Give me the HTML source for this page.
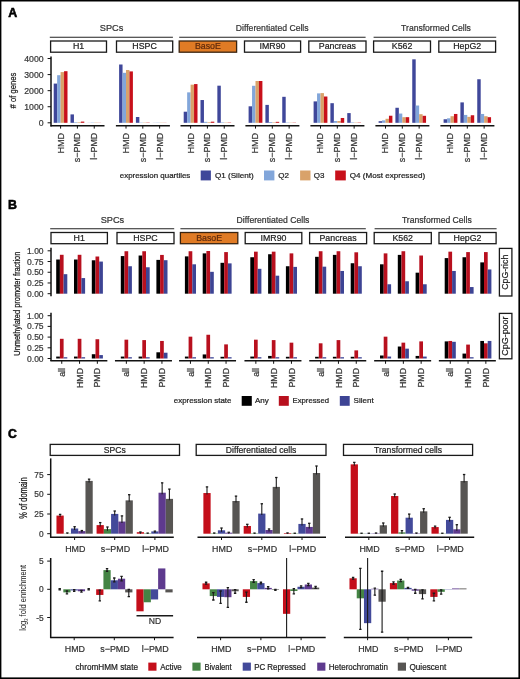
<!DOCTYPE html>
<html><head><meta charset="utf-8"><style>
html,body{margin:0;padding:0;background:#fff;overflow:hidden;}
svg{display:block;font-family:"Liberation Sans", sans-serif;}
.wrap{will-change:transform;}
</style></head><body><div class="wrap">
<svg width="520" height="679" viewBox="0 0 520 679">
<rect x="0" y="0" width="520" height="679" fill="#000"/>
<rect x="1.4" y="1.5" width="517.0" height="675.9" fill="#fff"/>
<text x="8.3" y="17.2" font-size="12.4" fill="#000" text-anchor="start" font-weight="bold" stroke="#000" stroke-width="0.55">A</text>
<text x="8.1" y="208.7" font-size="12.4" fill="#000" text-anchor="start" font-weight="bold" stroke="#000" stroke-width="0.55">B</text>
<text x="8.0" y="437.9" font-size="12.2" fill="#000" text-anchor="start" font-weight="bold" stroke="#000" stroke-width="0.55">C</text>
<text x="111.6" y="31.2" font-size="9.2" fill="#333" text-anchor="middle" font-weight="normal" stroke="#333" stroke-width="0.22">SPCs</text>
<text x="272.2" y="31.3" font-size="9.2" fill="#333" text-anchor="middle" font-weight="normal" textLength="72.8" lengthAdjust="spacingAndGlyphs" stroke="#333" stroke-width="0.22">Differentiated Cells</text>
<text x="436.0" y="31.3" font-size="9.2" fill="#333" text-anchor="middle" font-weight="normal" textLength="69.8" lengthAdjust="spacingAndGlyphs" stroke="#333" stroke-width="0.22">Transformed Cells</text>
<line x1="49.80" y1="37.30" x2="172.90" y2="37.30" stroke="#222" stroke-width="1.1"/>
<line x1="179.20" y1="37.30" x2="365.60" y2="37.30" stroke="#222" stroke-width="1.1"/>
<line x1="373.60" y1="37.30" x2="496.20" y2="37.30" stroke="#222" stroke-width="1.1"/>
<rect x="50.60" y="41.00" width="55.90" height="11.20" fill="#fff" stroke="#1a1a1a" stroke-width="1.3"/>
<text x="78.55" y="49.4" font-size="8.8" fill="#1e1e1e" text-anchor="middle" font-weight="normal" stroke="#1e1e1e" stroke-width="0.22">H1</text>
<rect x="116.50" y="41.00" width="56.20" height="11.20" fill="#fff" stroke="#1a1a1a" stroke-width="1.3"/>
<text x="144.6" y="49.4" font-size="8.8" fill="#1e1e1e" text-anchor="middle" font-weight="normal" stroke="#1e1e1e" stroke-width="0.22">HSPC</text>
<rect x="179.20" y="41.00" width="57.40" height="11.20" fill="#E07B25" stroke="#3a2410" stroke-width="1.3"/>
<text x="207.89999999999998" y="49.4" font-size="8.8" fill="#5e2a0c" text-anchor="middle" font-weight="normal" stroke="#5e2a0c" stroke-width="0.22">BasoE</text>
<rect x="244.50" y="41.00" width="56.10" height="11.20" fill="#fff" stroke="#1a1a1a" stroke-width="1.3"/>
<text x="272.55" y="49.4" font-size="8.8" fill="#1e1e1e" text-anchor="middle" font-weight="normal" stroke="#1e1e1e" stroke-width="0.22">IMR90</text>
<rect x="308.80" y="41.00" width="57.20" height="11.20" fill="#fff" stroke="#1a1a1a" stroke-width="1.3"/>
<text x="337.4" y="49.4" font-size="8.8" fill="#1e1e1e" text-anchor="middle" font-weight="normal" stroke="#1e1e1e" stroke-width="0.22">Pancreas</text>
<rect x="373.60" y="41.00" width="56.90" height="11.20" fill="#fff" stroke="#1a1a1a" stroke-width="1.3"/>
<text x="402.05" y="49.4" font-size="8.8" fill="#1e1e1e" text-anchor="middle" font-weight="normal" stroke="#1e1e1e" stroke-width="0.22">K562</text>
<rect x="438.80" y="41.00" width="56.80" height="11.20" fill="#fff" stroke="#1a1a1a" stroke-width="1.3"/>
<text x="467.20000000000005" y="49.4" font-size="8.8" fill="#1e1e1e" text-anchor="middle" font-weight="normal" stroke="#1e1e1e" stroke-width="0.22">HepG2</text>
<text x="112.39999999999999" y="222.7" font-size="9.2" fill="#333" text-anchor="middle" font-weight="normal" stroke="#333" stroke-width="0.22">SPCs</text>
<text x="273.0" y="222.8" font-size="9.2" fill="#333" text-anchor="middle" font-weight="normal" textLength="72.8" lengthAdjust="spacingAndGlyphs" stroke="#333" stroke-width="0.22">Differentiated Cells</text>
<text x="436.8" y="222.8" font-size="9.2" fill="#333" text-anchor="middle" font-weight="normal" textLength="69.8" lengthAdjust="spacingAndGlyphs" stroke="#333" stroke-width="0.22">Transformed Cells</text>
<line x1="50.20" y1="228.80" x2="174.20" y2="228.80" stroke="#222" stroke-width="1.1"/>
<line x1="180.40" y1="228.80" x2="365.80" y2="228.80" stroke="#222" stroke-width="1.1"/>
<line x1="374.60" y1="228.80" x2="496.60" y2="228.80" stroke="#222" stroke-width="1.1"/>
<rect x="51.00" y="232.50" width="56.40" height="11.20" fill="#fff" stroke="#1a1a1a" stroke-width="1.3"/>
<text x="79.2" y="240.9" font-size="8.8" fill="#1e1e1e" text-anchor="middle" font-weight="normal" stroke="#1e1e1e" stroke-width="0.22">H1</text>
<rect x="117.00" y="232.50" width="57.00" height="11.20" fill="#fff" stroke="#1a1a1a" stroke-width="1.3"/>
<text x="145.5" y="240.9" font-size="8.8" fill="#1e1e1e" text-anchor="middle" font-weight="normal" stroke="#1e1e1e" stroke-width="0.22">HSPC</text>
<rect x="180.40" y="232.50" width="57.40" height="11.20" fill="#E07B25" stroke="#3a2410" stroke-width="1.3"/>
<text x="209.10000000000002" y="240.9" font-size="8.8" fill="#5e2a0c" text-anchor="middle" font-weight="normal" stroke="#5e2a0c" stroke-width="0.22">BasoE</text>
<rect x="245.20" y="232.50" width="56.60" height="11.20" fill="#fff" stroke="#1a1a1a" stroke-width="1.3"/>
<text x="273.5" y="240.9" font-size="8.8" fill="#1e1e1e" text-anchor="middle" font-weight="normal" stroke="#1e1e1e" stroke-width="0.22">IMR90</text>
<rect x="309.60" y="232.50" width="57.00" height="11.20" fill="#fff" stroke="#1a1a1a" stroke-width="1.3"/>
<text x="338.1" y="240.9" font-size="8.8" fill="#1e1e1e" text-anchor="middle" font-weight="normal" stroke="#1e1e1e" stroke-width="0.22">Pancreas</text>
<rect x="374.20" y="232.50" width="57.10" height="11.20" fill="#fff" stroke="#1a1a1a" stroke-width="1.3"/>
<text x="402.75" y="240.9" font-size="8.8" fill="#1e1e1e" text-anchor="middle" font-weight="normal" stroke="#1e1e1e" stroke-width="0.22">K562</text>
<rect x="439.00" y="232.50" width="57.10" height="11.20" fill="#fff" stroke="#1a1a1a" stroke-width="1.3"/>
<text x="467.55" y="240.9" font-size="8.8" fill="#1e1e1e" text-anchor="middle" font-weight="normal" stroke="#1e1e1e" stroke-width="0.22">HepG2</text>
<rect x="53.70" y="83.59" width="3.45" height="39.21" fill="#3F479A"/>
<rect x="57.15" y="75.20" width="3.45" height="47.60" fill="#82A6DA"/>
<rect x="60.60" y="72.10" width="3.45" height="50.70" fill="#D9A26A"/>
<rect x="64.05" y="71.20" width="3.45" height="51.60" fill="#C8101A"/>
<rect x="70.50" y="114.40" width="3.45" height="8.40" fill="#3F479A"/>
<rect x="73.95" y="122.24" width="3.45" height="0.56" fill="#82A6DA"/>
<rect x="77.40" y="122.24" width="3.45" height="0.56" fill="#D9A26A"/>
<rect x="80.85" y="121.59" width="3.45" height="1.21" fill="#C8101A"/>
<rect x="87.35" y="122.72" width="3.45" height="0.08" fill="#3F479A"/>
<rect x="90.80" y="122.51" width="3.45" height="0.29" fill="#82A6DA"/>
<rect x="94.25" y="122.51" width="3.45" height="0.29" fill="#D9A26A"/>
<rect x="97.70" y="122.67" width="3.45" height="0.13" fill="#C8101A"/>
<line x1="50.50" y1="125.80" x2="104.50" y2="125.80" stroke="#111" stroke-width="1.5"/>
<line x1="60.60" y1="125.80" x2="60.60" y2="128.60" stroke="#111" stroke-width="1.0"/>
<text transform="translate(63.5,132.8) rotate(-90)" font-size="8.9" fill="#333" text-anchor="end" font-weight="normal" textLength="20.8" lengthAdjust="spacingAndGlyphs" stroke="#333" stroke-width="0.22">HMD</text>
<line x1="77.40" y1="125.80" x2="77.40" y2="128.60" stroke="#111" stroke-width="1.0"/>
<text transform="translate(80.30000000000001,132.8) rotate(-90)" font-size="8.9" fill="#333" text-anchor="end" font-weight="normal" stroke="#333" stroke-width="0.22">s&#8722;PMD</text>
<line x1="94.25" y1="125.80" x2="94.25" y2="128.60" stroke="#111" stroke-width="1.0"/>
<text transform="translate(97.15,132.8) rotate(-90)" font-size="8.9" fill="#333" text-anchor="end" font-weight="normal" stroke="#333" stroke-width="0.22">l&#8722;PMD</text>
<rect x="119.10" y="64.50" width="3.45" height="58.30" fill="#3F479A"/>
<rect x="122.55" y="72.81" width="3.45" height="49.99" fill="#82A6DA"/>
<rect x="126.00" y="69.99" width="3.45" height="52.81" fill="#D9A26A"/>
<rect x="129.45" y="71.41" width="3.45" height="51.39" fill="#C8101A"/>
<rect x="135.90" y="117.00" width="3.45" height="5.80" fill="#3F479A"/>
<rect x="139.35" y="122.51" width="3.45" height="0.29" fill="#82A6DA"/>
<rect x="142.80" y="122.51" width="3.45" height="0.29" fill="#D9A26A"/>
<rect x="146.25" y="122.51" width="3.45" height="0.29" fill="#C8101A"/>
<rect x="152.75" y="122.72" width="3.45" height="0.08" fill="#3F479A"/>
<rect x="156.20" y="122.58" width="3.45" height="0.22" fill="#82A6DA"/>
<rect x="159.65" y="122.58" width="3.45" height="0.22" fill="#D9A26A"/>
<rect x="163.10" y="122.67" width="3.45" height="0.13" fill="#C8101A"/>
<line x1="115.90" y1="125.80" x2="169.90" y2="125.80" stroke="#111" stroke-width="1.5"/>
<line x1="126.00" y1="125.80" x2="126.00" y2="128.60" stroke="#111" stroke-width="1.0"/>
<text transform="translate(128.9,132.8) rotate(-90)" font-size="8.9" fill="#333" text-anchor="end" font-weight="normal" textLength="20.8" lengthAdjust="spacingAndGlyphs" stroke="#333" stroke-width="0.22">HMD</text>
<line x1="142.80" y1="125.80" x2="142.80" y2="128.60" stroke="#111" stroke-width="1.0"/>
<text transform="translate(145.70000000000002,132.8) rotate(-90)" font-size="8.9" fill="#333" text-anchor="end" font-weight="normal" stroke="#333" stroke-width="0.22">s&#8722;PMD</text>
<line x1="159.65" y1="125.80" x2="159.65" y2="128.60" stroke="#111" stroke-width="1.0"/>
<text transform="translate(162.55,132.8) rotate(-90)" font-size="8.9" fill="#333" text-anchor="end" font-weight="normal" stroke="#333" stroke-width="0.22">l&#8722;PMD</text>
<rect x="183.70" y="111.71" width="3.45" height="11.09" fill="#3F479A"/>
<rect x="187.15" y="92.36" width="3.45" height="30.44" fill="#82A6DA"/>
<rect x="190.60" y="84.67" width="3.45" height="38.13" fill="#D9A26A"/>
<rect x="194.05" y="84.07" width="3.45" height="38.73" fill="#C8101A"/>
<rect x="200.50" y="100.04" width="3.45" height="22.76" fill="#3F479A"/>
<rect x="203.95" y="121.84" width="3.45" height="0.96" fill="#82A6DA"/>
<rect x="207.40" y="122.16" width="3.45" height="0.64" fill="#D9A26A"/>
<rect x="210.85" y="121.68" width="3.45" height="1.12" fill="#C8101A"/>
<rect x="217.35" y="85.68" width="3.45" height="37.12" fill="#3F479A"/>
<rect x="220.80" y="122.32" width="3.45" height="0.48" fill="#82A6DA"/>
<rect x="224.25" y="122.48" width="3.45" height="0.32" fill="#D9A26A"/>
<rect x="227.70" y="122.48" width="3.45" height="0.32" fill="#C8101A"/>
<line x1="180.50" y1="125.80" x2="234.50" y2="125.80" stroke="#111" stroke-width="1.5"/>
<line x1="190.60" y1="125.80" x2="190.60" y2="128.60" stroke="#111" stroke-width="1.0"/>
<text transform="translate(193.5,132.8) rotate(-90)" font-size="8.9" fill="#333" text-anchor="end" font-weight="normal" textLength="20.8" lengthAdjust="spacingAndGlyphs" stroke="#333" stroke-width="0.22">HMD</text>
<line x1="207.40" y1="125.80" x2="207.40" y2="128.60" stroke="#111" stroke-width="1.0"/>
<text transform="translate(210.3,132.8) rotate(-90)" font-size="8.9" fill="#333" text-anchor="end" font-weight="normal" stroke="#333" stroke-width="0.22">s&#8722;PMD</text>
<line x1="224.25" y1="125.80" x2="224.25" y2="128.60" stroke="#111" stroke-width="1.0"/>
<text transform="translate(227.15,132.8) rotate(-90)" font-size="8.9" fill="#333" text-anchor="end" font-weight="normal" stroke="#333" stroke-width="0.22">l&#8722;PMD</text>
<rect x="248.60" y="106.30" width="3.45" height="16.50" fill="#3F479A"/>
<rect x="252.05" y="85.79" width="3.45" height="37.01" fill="#82A6DA"/>
<rect x="255.50" y="81.00" width="3.45" height="41.80" fill="#D9A26A"/>
<rect x="258.95" y="81.00" width="3.45" height="41.80" fill="#C8101A"/>
<rect x="265.40" y="104.90" width="3.45" height="17.90" fill="#3F479A"/>
<rect x="268.85" y="122.00" width="3.45" height="0.80" fill="#82A6DA"/>
<rect x="272.30" y="122.32" width="3.45" height="0.48" fill="#D9A26A"/>
<rect x="275.75" y="121.84" width="3.45" height="0.96" fill="#C8101A"/>
<rect x="282.25" y="96.81" width="3.45" height="25.99" fill="#3F479A"/>
<rect x="285.70" y="122.48" width="3.45" height="0.32" fill="#82A6DA"/>
<rect x="289.15" y="122.56" width="3.45" height="0.24" fill="#D9A26A"/>
<rect x="292.60" y="122.56" width="3.45" height="0.24" fill="#C8101A"/>
<line x1="245.40" y1="125.80" x2="299.40" y2="125.80" stroke="#111" stroke-width="1.5"/>
<line x1="255.50" y1="125.80" x2="255.50" y2="128.60" stroke="#111" stroke-width="1.0"/>
<text transform="translate(258.4,132.8) rotate(-90)" font-size="8.9" fill="#333" text-anchor="end" font-weight="normal" textLength="20.8" lengthAdjust="spacingAndGlyphs" stroke="#333" stroke-width="0.22">HMD</text>
<line x1="272.30" y1="125.80" x2="272.30" y2="128.60" stroke="#111" stroke-width="1.0"/>
<text transform="translate(275.2,132.8) rotate(-90)" font-size="8.9" fill="#333" text-anchor="end" font-weight="normal" stroke="#333" stroke-width="0.22">s&#8722;PMD</text>
<line x1="289.15" y1="125.80" x2="289.15" y2="128.60" stroke="#111" stroke-width="1.0"/>
<text transform="translate(292.04999999999995,132.8) rotate(-90)" font-size="8.9" fill="#333" text-anchor="end" font-weight="normal" stroke="#333" stroke-width="0.22">l&#8722;PMD</text>
<rect x="313.60" y="101.39" width="3.45" height="21.41" fill="#3F479A"/>
<rect x="317.05" y="93.39" width="3.45" height="29.41" fill="#82A6DA"/>
<rect x="320.50" y="93.10" width="3.45" height="29.70" fill="#D9A26A"/>
<rect x="323.95" y="96.51" width="3.45" height="26.29" fill="#C8101A"/>
<rect x="330.40" y="103.19" width="3.45" height="19.61" fill="#3F479A"/>
<rect x="333.85" y="121.03" width="3.45" height="1.77" fill="#82A6DA"/>
<rect x="337.30" y="121.03" width="3.45" height="1.77" fill="#D9A26A"/>
<rect x="340.75" y="117.98" width="3.45" height="4.82" fill="#C8101A"/>
<rect x="347.25" y="113.09" width="3.45" height="9.71" fill="#3F479A"/>
<rect x="350.70" y="122.32" width="3.45" height="0.48" fill="#82A6DA"/>
<rect x="354.15" y="122.48" width="3.45" height="0.32" fill="#D9A26A"/>
<rect x="357.60" y="122.48" width="3.45" height="0.32" fill="#C8101A"/>
<line x1="310.40" y1="125.80" x2="364.40" y2="125.80" stroke="#111" stroke-width="1.5"/>
<line x1="320.50" y1="125.80" x2="320.50" y2="128.60" stroke="#111" stroke-width="1.0"/>
<text transform="translate(323.4,132.8) rotate(-90)" font-size="8.9" fill="#333" text-anchor="end" font-weight="normal" textLength="20.8" lengthAdjust="spacingAndGlyphs" stroke="#333" stroke-width="0.22">HMD</text>
<line x1="337.30" y1="125.80" x2="337.30" y2="128.60" stroke="#111" stroke-width="1.0"/>
<text transform="translate(340.19999999999993,132.8) rotate(-90)" font-size="8.9" fill="#333" text-anchor="end" font-weight="normal" stroke="#333" stroke-width="0.22">s&#8722;PMD</text>
<line x1="354.15" y1="125.80" x2="354.15" y2="128.60" stroke="#111" stroke-width="1.0"/>
<text transform="translate(357.04999999999995,132.8) rotate(-90)" font-size="8.9" fill="#333" text-anchor="end" font-weight="normal" stroke="#333" stroke-width="0.22">l&#8722;PMD</text>
<rect x="378.60" y="121.19" width="3.45" height="1.61" fill="#3F479A"/>
<rect x="382.05" y="120.39" width="3.45" height="2.41" fill="#82A6DA"/>
<rect x="385.50" y="118.78" width="3.45" height="4.02" fill="#D9A26A"/>
<rect x="388.95" y="115.73" width="3.45" height="7.07" fill="#C8101A"/>
<rect x="395.40" y="107.77" width="3.45" height="15.03" fill="#3F479A"/>
<rect x="398.85" y="113.56" width="3.45" height="9.24" fill="#82A6DA"/>
<rect x="402.30" y="117.18" width="3.45" height="5.62" fill="#D9A26A"/>
<rect x="405.75" y="117.18" width="3.45" height="5.62" fill="#C8101A"/>
<rect x="412.25" y="59.32" width="3.45" height="63.48" fill="#3F479A"/>
<rect x="415.70" y="105.52" width="3.45" height="17.28" fill="#82A6DA"/>
<rect x="419.15" y="114.20" width="3.45" height="8.60" fill="#D9A26A"/>
<rect x="422.60" y="115.81" width="3.45" height="6.99" fill="#C8101A"/>
<line x1="375.40" y1="125.80" x2="429.40" y2="125.80" stroke="#111" stroke-width="1.5"/>
<line x1="385.50" y1="125.80" x2="385.50" y2="128.60" stroke="#111" stroke-width="1.0"/>
<text transform="translate(388.4,132.8) rotate(-90)" font-size="8.9" fill="#333" text-anchor="end" font-weight="normal" textLength="20.8" lengthAdjust="spacingAndGlyphs" stroke="#333" stroke-width="0.22">HMD</text>
<line x1="402.30" y1="125.80" x2="402.30" y2="128.60" stroke="#111" stroke-width="1.0"/>
<text transform="translate(405.19999999999993,132.8) rotate(-90)" font-size="8.9" fill="#333" text-anchor="end" font-weight="normal" stroke="#333" stroke-width="0.22">s&#8722;PMD</text>
<line x1="419.15" y1="125.80" x2="419.15" y2="128.60" stroke="#111" stroke-width="1.0"/>
<text transform="translate(422.04999999999995,132.8) rotate(-90)" font-size="8.9" fill="#333" text-anchor="end" font-weight="normal" stroke="#333" stroke-width="0.22">l&#8722;PMD</text>
<rect x="443.60" y="119.26" width="3.45" height="3.54" fill="#3F479A"/>
<rect x="447.05" y="118.30" width="3.45" height="4.50" fill="#82A6DA"/>
<rect x="450.50" y="116.21" width="3.45" height="6.59" fill="#D9A26A"/>
<rect x="453.95" y="113.96" width="3.45" height="8.84" fill="#C8101A"/>
<rect x="460.40" y="102.39" width="3.45" height="20.41" fill="#3F479A"/>
<rect x="463.85" y="114.93" width="3.45" height="7.87" fill="#82A6DA"/>
<rect x="467.30" y="116.85" width="3.45" height="5.95" fill="#D9A26A"/>
<rect x="470.75" y="115.25" width="3.45" height="7.55" fill="#C8101A"/>
<rect x="477.25" y="79.25" width="3.45" height="43.55" fill="#3F479A"/>
<rect x="480.70" y="113.96" width="3.45" height="8.84" fill="#82A6DA"/>
<rect x="484.15" y="116.21" width="3.45" height="6.59" fill="#D9A26A"/>
<rect x="487.60" y="117.18" width="3.45" height="5.62" fill="#C8101A"/>
<line x1="440.40" y1="125.80" x2="494.40" y2="125.80" stroke="#111" stroke-width="1.5"/>
<line x1="450.50" y1="125.80" x2="450.50" y2="128.60" stroke="#111" stroke-width="1.0"/>
<text transform="translate(453.4,132.8) rotate(-90)" font-size="8.9" fill="#333" text-anchor="end" font-weight="normal" textLength="20.8" lengthAdjust="spacingAndGlyphs" stroke="#333" stroke-width="0.22">HMD</text>
<line x1="467.30" y1="125.80" x2="467.30" y2="128.60" stroke="#111" stroke-width="1.0"/>
<text transform="translate(470.19999999999993,132.8) rotate(-90)" font-size="8.9" fill="#333" text-anchor="end" font-weight="normal" stroke="#333" stroke-width="0.22">s&#8722;PMD</text>
<line x1="484.15" y1="125.80" x2="484.15" y2="128.60" stroke="#111" stroke-width="1.0"/>
<text transform="translate(487.04999999999995,132.8) rotate(-90)" font-size="8.9" fill="#333" text-anchor="end" font-weight="normal" stroke="#333" stroke-width="0.22">l&#8722;PMD</text>
<line x1="51.00" y1="56.40" x2="51.00" y2="126.40" stroke="#111" stroke-width="1.5"/>
<line x1="47.60" y1="122.80" x2="51.00" y2="122.80" stroke="#111" stroke-width="1.0"/>
<text x="43.6" y="125.89999999999999" font-size="8.7" fill="#383838" text-anchor="end" font-weight="normal" stroke="#383838" stroke-width="0.22">0</text>
<line x1="47.60" y1="106.73" x2="51.00" y2="106.73" stroke="#111" stroke-width="1.0"/>
<text x="43.6" y="109.82999999999998" font-size="8.7" fill="#383838" text-anchor="end" font-weight="normal" stroke="#383838" stroke-width="0.22">1000</text>
<line x1="47.60" y1="90.66" x2="51.00" y2="90.66" stroke="#111" stroke-width="1.0"/>
<text x="43.6" y="93.75999999999999" font-size="8.7" fill="#383838" text-anchor="end" font-weight="normal" stroke="#383838" stroke-width="0.22">2000</text>
<line x1="47.60" y1="74.59" x2="51.00" y2="74.59" stroke="#111" stroke-width="1.0"/>
<text x="43.6" y="77.69" font-size="8.7" fill="#383838" text-anchor="end" font-weight="normal" stroke="#383838" stroke-width="0.22">3000</text>
<line x1="47.60" y1="58.52" x2="51.00" y2="58.52" stroke="#111" stroke-width="1.0"/>
<text x="43.6" y="61.62" font-size="8.7" fill="#383838" text-anchor="end" font-weight="normal" stroke="#383838" stroke-width="0.22">4000</text>
<text transform="translate(16.0,90.6) rotate(-90)" font-size="9.1" fill="#151515" text-anchor="middle" font-weight="normal" textLength="35.8" lengthAdjust="spacingAndGlyphs" stroke="#151515" stroke-width="0.22"># of genes</text>
<rect x="200.70" y="170.50" width="10.20" height="9.90" fill="#3F479A"/>
<text x="214.9" y="177.9" font-size="8.0" fill="#222" text-anchor="start" font-weight="normal" textLength="38.8" lengthAdjust="spacingAndGlyphs" stroke="#222" stroke-width="0.22">Q1 (Silent)</text>
<rect x="264.00" y="170.50" width="10.40" height="9.90" fill="#82A6DA"/>
<text x="278.2" y="177.9" font-size="8.0" fill="#222" text-anchor="start" font-weight="normal" stroke="#222" stroke-width="0.22">Q2</text>
<rect x="300.10" y="170.50" width="10.40" height="9.90" fill="#D9A26A"/>
<text x="313.8" y="177.9" font-size="8.0" fill="#222" text-anchor="start" font-weight="normal" stroke="#222" stroke-width="0.22">Q3</text>
<rect x="335.20" y="170.50" width="10.60" height="9.90" fill="#C8101A"/>
<text x="349.8" y="177.9" font-size="8.0" fill="#222" text-anchor="start" font-weight="normal" textLength="75.3" lengthAdjust="spacingAndGlyphs" stroke="#222" stroke-width="0.22">Q4 (Most expressed)</text>
<text x="119.8" y="177.8" font-size="8.0" fill="#222" text-anchor="start" font-weight="normal" textLength="70.5" lengthAdjust="spacingAndGlyphs" stroke="#222" stroke-width="0.22">expression quartiles</text>
<rect x="56.20" y="259.51" width="3.70" height="34.19" fill="#000000"/>
<rect x="59.90" y="254.79" width="3.70" height="38.91" fill="#B8101E"/>
<rect x="63.60" y="274.18" width="3.70" height="19.52" fill="#3D4494"/>
<rect x="74.00" y="259.51" width="3.70" height="34.19" fill="#000000"/>
<rect x="77.70" y="254.79" width="3.70" height="38.91" fill="#B8101E"/>
<rect x="81.40" y="278.08" width="3.70" height="15.62" fill="#3D4494"/>
<rect x="91.80" y="260.28" width="3.70" height="33.42" fill="#000000"/>
<rect x="95.50" y="256.51" width="3.70" height="37.19" fill="#B8101E"/>
<rect x="99.20" y="261.57" width="3.70" height="32.13" fill="#3D4494"/>
<rect x="120.80" y="256.08" width="3.70" height="37.62" fill="#000000"/>
<rect x="124.50" y="251.23" width="3.70" height="42.47" fill="#B8101E"/>
<rect x="128.20" y="266.24" width="3.70" height="27.46" fill="#3D4494"/>
<rect x="138.60" y="255.52" width="3.70" height="38.18" fill="#000000"/>
<rect x="142.30" y="251.23" width="3.70" height="42.47" fill="#B8101E"/>
<rect x="146.00" y="267.27" width="3.70" height="26.43" fill="#3D4494"/>
<rect x="156.40" y="259.89" width="3.70" height="33.81" fill="#000000"/>
<rect x="160.10" y="254.92" width="3.70" height="38.78" fill="#B8101E"/>
<rect x="163.80" y="260.20" width="3.70" height="33.50" fill="#3D4494"/>
<rect x="184.90" y="256.38" width="3.70" height="37.32" fill="#000000"/>
<rect x="188.60" y="251.23" width="3.70" height="42.47" fill="#B8101E"/>
<rect x="192.30" y="264.31" width="3.70" height="29.39" fill="#3D4494"/>
<rect x="202.70" y="253.37" width="3.70" height="40.33" fill="#000000"/>
<rect x="206.40" y="251.01" width="3.70" height="42.69" fill="#B8101E"/>
<rect x="210.10" y="271.82" width="3.70" height="21.88" fill="#3D4494"/>
<rect x="220.50" y="262.81" width="3.70" height="30.89" fill="#000000"/>
<rect x="224.20" y="252.09" width="3.70" height="41.61" fill="#B8101E"/>
<rect x="227.90" y="263.37" width="3.70" height="30.33" fill="#3D4494"/>
<rect x="250.30" y="257.24" width="3.70" height="36.46" fill="#000000"/>
<rect x="254.00" y="251.66" width="3.70" height="42.04" fill="#B8101E"/>
<rect x="257.70" y="268.82" width="3.70" height="24.88" fill="#3D4494"/>
<rect x="268.10" y="254.23" width="3.70" height="39.47" fill="#000000"/>
<rect x="271.80" y="251.66" width="3.70" height="42.04" fill="#B8101E"/>
<rect x="275.50" y="275.68" width="3.70" height="18.02" fill="#3D4494"/>
<rect x="285.90" y="266.24" width="3.70" height="27.46" fill="#000000"/>
<rect x="289.60" y="253.37" width="3.70" height="40.33" fill="#B8101E"/>
<rect x="293.30" y="266.89" width="3.70" height="26.81" fill="#3D4494"/>
<rect x="315.10" y="256.81" width="3.70" height="36.89" fill="#000000"/>
<rect x="318.80" y="251.23" width="3.70" height="42.47" fill="#B8101E"/>
<rect x="322.50" y="266.67" width="3.70" height="27.03" fill="#3D4494"/>
<rect x="332.90" y="254.88" width="3.70" height="38.82" fill="#000000"/>
<rect x="336.60" y="251.23" width="3.70" height="42.47" fill="#B8101E"/>
<rect x="340.30" y="270.96" width="3.70" height="22.74" fill="#3D4494"/>
<rect x="350.70" y="263.24" width="3.70" height="30.46" fill="#000000"/>
<rect x="354.40" y="252.30" width="3.70" height="41.40" fill="#B8101E"/>
<rect x="358.10" y="266.24" width="3.70" height="27.46" fill="#3D4494"/>
<rect x="380.00" y="264.31" width="3.70" height="29.39" fill="#000000"/>
<rect x="383.70" y="253.37" width="3.70" height="40.33" fill="#B8101E"/>
<rect x="387.40" y="284.26" width="3.70" height="9.44" fill="#3D4494"/>
<rect x="397.80" y="254.88" width="3.70" height="38.82" fill="#000000"/>
<rect x="401.50" y="251.23" width="3.70" height="42.47" fill="#B8101E"/>
<rect x="405.20" y="281.26" width="3.70" height="12.44" fill="#3D4494"/>
<rect x="415.60" y="272.68" width="3.70" height="21.02" fill="#000000"/>
<rect x="419.30" y="255.52" width="3.70" height="38.18" fill="#B8101E"/>
<rect x="423.00" y="284.26" width="3.70" height="9.44" fill="#3D4494"/>
<rect x="444.70" y="258.09" width="3.70" height="35.61" fill="#000000"/>
<rect x="448.40" y="251.66" width="3.70" height="42.04" fill="#B8101E"/>
<rect x="452.10" y="270.96" width="3.70" height="22.74" fill="#3D4494"/>
<rect x="462.50" y="257.24" width="3.70" height="36.46" fill="#000000"/>
<rect x="466.20" y="252.09" width="3.70" height="41.61" fill="#B8101E"/>
<rect x="469.90" y="287.05" width="3.70" height="6.65" fill="#3D4494"/>
<rect x="480.30" y="262.38" width="3.70" height="31.32" fill="#000000"/>
<rect x="484.00" y="252.09" width="3.70" height="41.61" fill="#B8101E"/>
<rect x="487.70" y="269.46" width="3.70" height="24.24" fill="#3D4494"/>
<line x1="51.00" y1="247.80" x2="51.00" y2="296.30" stroke="#111" stroke-width="1.5"/>
<line x1="47.60" y1="293.70" x2="51.00" y2="293.70" stroke="#111" stroke-width="1.0"/>
<text x="43.6" y="296.7" font-size="8.5" fill="#383838" text-anchor="end" font-weight="normal" stroke="#383838" stroke-width="0.22">0.00</text>
<line x1="47.60" y1="282.97" x2="51.00" y2="282.97" stroke="#111" stroke-width="1.0"/>
<text x="43.6" y="285.97499999999997" font-size="8.5" fill="#383838" text-anchor="end" font-weight="normal" stroke="#383838" stroke-width="0.22">0.25</text>
<line x1="47.60" y1="272.25" x2="51.00" y2="272.25" stroke="#111" stroke-width="1.0"/>
<text x="43.6" y="275.25" font-size="8.5" fill="#383838" text-anchor="end" font-weight="normal" stroke="#383838" stroke-width="0.22">0.50</text>
<line x1="47.60" y1="261.52" x2="51.00" y2="261.52" stroke="#111" stroke-width="1.0"/>
<text x="43.6" y="264.525" font-size="8.5" fill="#383838" text-anchor="end" font-weight="normal" stroke="#383838" stroke-width="0.22">0.75</text>
<line x1="47.60" y1="250.80" x2="51.00" y2="250.80" stroke="#111" stroke-width="1.0"/>
<text x="43.6" y="253.79999999999998" font-size="8.5" fill="#383838" text-anchor="end" font-weight="normal" stroke="#383838" stroke-width="0.22">1.00</text>
<rect x="56.20" y="356.57" width="3.70" height="1.93" fill="#000000"/>
<rect x="59.90" y="338.81" width="3.70" height="19.69" fill="#B8101E"/>
<rect x="63.60" y="357.22" width="3.70" height="1.28" fill="#3D4494"/>
<rect x="74.00" y="356.57" width="3.70" height="1.93" fill="#000000"/>
<rect x="77.70" y="338.81" width="3.70" height="19.69" fill="#B8101E"/>
<rect x="81.40" y="357.22" width="3.70" height="1.28" fill="#3D4494"/>
<rect x="91.80" y="354.22" width="3.70" height="4.28" fill="#000000"/>
<rect x="95.50" y="339.24" width="3.70" height="19.26" fill="#B8101E"/>
<rect x="99.20" y="355.08" width="3.70" height="3.42" fill="#3D4494"/>
<rect x="120.80" y="356.57" width="3.70" height="1.93" fill="#000000"/>
<rect x="124.50" y="339.67" width="3.70" height="18.83" fill="#B8101E"/>
<rect x="128.20" y="357.22" width="3.70" height="1.28" fill="#3D4494"/>
<rect x="138.60" y="356.57" width="3.70" height="1.93" fill="#000000"/>
<rect x="142.30" y="340.10" width="3.70" height="18.40" fill="#B8101E"/>
<rect x="146.00" y="357.22" width="3.70" height="1.28" fill="#3D4494"/>
<rect x="156.40" y="352.29" width="3.70" height="6.21" fill="#000000"/>
<rect x="160.10" y="340.95" width="3.70" height="17.55" fill="#B8101E"/>
<rect x="163.80" y="352.72" width="3.70" height="5.78" fill="#3D4494"/>
<rect x="184.90" y="356.57" width="3.70" height="1.93" fill="#000000"/>
<rect x="188.60" y="336.67" width="3.70" height="21.83" fill="#B8101E"/>
<rect x="192.30" y="357.22" width="3.70" height="1.28" fill="#3D4494"/>
<rect x="202.70" y="354.43" width="3.70" height="4.07" fill="#000000"/>
<rect x="206.40" y="334.75" width="3.70" height="23.75" fill="#B8101E"/>
<rect x="210.10" y="357.22" width="3.70" height="1.28" fill="#3D4494"/>
<rect x="220.50" y="356.79" width="3.70" height="1.71" fill="#000000"/>
<rect x="224.20" y="344.38" width="3.70" height="14.12" fill="#B8101E"/>
<rect x="227.90" y="357.22" width="3.70" height="1.28" fill="#3D4494"/>
<rect x="250.30" y="356.57" width="3.70" height="1.93" fill="#000000"/>
<rect x="254.00" y="339.67" width="3.70" height="18.83" fill="#B8101E"/>
<rect x="257.70" y="357.22" width="3.70" height="1.28" fill="#3D4494"/>
<rect x="268.10" y="355.93" width="3.70" height="2.57" fill="#000000"/>
<rect x="271.80" y="340.10" width="3.70" height="18.40" fill="#B8101E"/>
<rect x="275.50" y="357.22" width="3.70" height="1.28" fill="#3D4494"/>
<rect x="285.90" y="356.79" width="3.70" height="1.71" fill="#000000"/>
<rect x="289.60" y="342.66" width="3.70" height="15.84" fill="#B8101E"/>
<rect x="293.30" y="357.22" width="3.70" height="1.28" fill="#3D4494"/>
<rect x="315.10" y="356.79" width="3.70" height="1.71" fill="#000000"/>
<rect x="318.80" y="343.31" width="3.70" height="15.19" fill="#B8101E"/>
<rect x="322.50" y="357.22" width="3.70" height="1.28" fill="#3D4494"/>
<rect x="332.90" y="356.79" width="3.70" height="1.71" fill="#000000"/>
<rect x="336.60" y="340.10" width="3.70" height="18.40" fill="#B8101E"/>
<rect x="340.30" y="357.22" width="3.70" height="1.28" fill="#3D4494"/>
<rect x="350.70" y="356.79" width="3.70" height="1.71" fill="#000000"/>
<rect x="354.40" y="350.37" width="3.70" height="8.13" fill="#B8101E"/>
<rect x="358.10" y="357.22" width="3.70" height="1.28" fill="#3D4494"/>
<rect x="380.00" y="355.50" width="3.70" height="3.00" fill="#000000"/>
<rect x="383.70" y="336.67" width="3.70" height="21.83" fill="#B8101E"/>
<rect x="387.40" y="356.57" width="3.70" height="1.93" fill="#3D4494"/>
<rect x="397.80" y="346.52" width="3.70" height="11.98" fill="#000000"/>
<rect x="401.50" y="342.66" width="3.70" height="15.84" fill="#B8101E"/>
<rect x="405.20" y="348.66" width="3.70" height="9.84" fill="#3D4494"/>
<rect x="415.60" y="355.93" width="3.70" height="2.57" fill="#000000"/>
<rect x="419.30" y="341.38" width="3.70" height="17.12" fill="#B8101E"/>
<rect x="423.00" y="356.57" width="3.70" height="1.93" fill="#3D4494"/>
<rect x="444.70" y="341.38" width="3.70" height="17.12" fill="#000000"/>
<rect x="448.40" y="340.95" width="3.70" height="17.55" fill="#B8101E"/>
<rect x="452.10" y="341.81" width="3.70" height="16.69" fill="#3D4494"/>
<rect x="462.50" y="353.58" width="3.70" height="4.92" fill="#000000"/>
<rect x="466.20" y="344.59" width="3.70" height="13.91" fill="#B8101E"/>
<rect x="469.90" y="357.22" width="3.70" height="1.28" fill="#3D4494"/>
<rect x="480.30" y="340.95" width="3.70" height="17.55" fill="#000000"/>
<rect x="484.00" y="343.31" width="3.70" height="15.19" fill="#B8101E"/>
<rect x="487.70" y="340.95" width="3.70" height="17.55" fill="#3D4494"/>
<line x1="51.00" y1="312.70" x2="51.00" y2="361.10" stroke="#111" stroke-width="1.5"/>
<line x1="47.60" y1="358.50" x2="51.00" y2="358.50" stroke="#111" stroke-width="1.0"/>
<text x="43.6" y="361.5" font-size="8.5" fill="#383838" text-anchor="end" font-weight="normal" stroke="#383838" stroke-width="0.22">0.00</text>
<line x1="47.60" y1="347.80" x2="51.00" y2="347.80" stroke="#111" stroke-width="1.0"/>
<text x="43.6" y="350.8" font-size="8.5" fill="#383838" text-anchor="end" font-weight="normal" stroke="#383838" stroke-width="0.22">0.25</text>
<line x1="47.60" y1="337.10" x2="51.00" y2="337.10" stroke="#111" stroke-width="1.0"/>
<text x="43.6" y="340.1" font-size="8.5" fill="#383838" text-anchor="end" font-weight="normal" stroke="#383838" stroke-width="0.22">0.50</text>
<line x1="47.60" y1="326.40" x2="51.00" y2="326.40" stroke="#111" stroke-width="1.0"/>
<text x="43.6" y="329.4" font-size="8.5" fill="#383838" text-anchor="end" font-weight="normal" stroke="#383838" stroke-width="0.22">0.75</text>
<line x1="47.60" y1="315.70" x2="51.00" y2="315.70" stroke="#111" stroke-width="1.0"/>
<text x="43.6" y="318.7" font-size="8.5" fill="#383838" text-anchor="end" font-weight="normal" stroke="#383838" stroke-width="0.22">1.00</text>
<line x1="50.35" y1="360.80" x2="107.35" y2="360.80" stroke="#111" stroke-width="1.5"/>
<line x1="61.75" y1="360.80" x2="61.75" y2="363.80" stroke="#111" stroke-width="1.0"/>
<text transform="translate(64.85,368.0) rotate(-90)" font-size="8.8" fill="#333" text-anchor="end" font-weight="normal" stroke="#333" stroke-width="0.22">all</text>
<line x1="79.55" y1="360.80" x2="79.55" y2="363.80" stroke="#111" stroke-width="1.0"/>
<text transform="translate(82.64999999999999,368.0) rotate(-90)" font-size="8.8" fill="#333" text-anchor="end" font-weight="normal" stroke="#333" stroke-width="0.22">HMD</text>
<line x1="97.35" y1="360.80" x2="97.35" y2="363.80" stroke="#111" stroke-width="1.0"/>
<text transform="translate(100.44999999999999,368.0) rotate(-90)" font-size="8.8" fill="#333" text-anchor="end" font-weight="normal" stroke="#333" stroke-width="0.22">PMD</text>
<line x1="114.95" y1="360.80" x2="171.95" y2="360.80" stroke="#111" stroke-width="1.5"/>
<line x1="126.35" y1="360.80" x2="126.35" y2="363.80" stroke="#111" stroke-width="1.0"/>
<text transform="translate(129.45,368.0) rotate(-90)" font-size="8.8" fill="#333" text-anchor="end" font-weight="normal" stroke="#333" stroke-width="0.22">all</text>
<line x1="144.15" y1="360.80" x2="144.15" y2="363.80" stroke="#111" stroke-width="1.0"/>
<text transform="translate(147.25,368.0) rotate(-90)" font-size="8.8" fill="#333" text-anchor="end" font-weight="normal" stroke="#333" stroke-width="0.22">HMD</text>
<line x1="161.95" y1="360.80" x2="161.95" y2="363.80" stroke="#111" stroke-width="1.0"/>
<text transform="translate(165.04999999999998,368.0) rotate(-90)" font-size="8.8" fill="#333" text-anchor="end" font-weight="normal" stroke="#333" stroke-width="0.22">PMD</text>
<line x1="179.05" y1="360.80" x2="236.05" y2="360.80" stroke="#111" stroke-width="1.5"/>
<line x1="190.45" y1="360.80" x2="190.45" y2="363.80" stroke="#111" stroke-width="1.0"/>
<text transform="translate(193.54999999999998,368.0) rotate(-90)" font-size="8.8" fill="#333" text-anchor="end" font-weight="normal" stroke="#333" stroke-width="0.22">all</text>
<line x1="208.25" y1="360.80" x2="208.25" y2="363.80" stroke="#111" stroke-width="1.0"/>
<text transform="translate(211.35,368.0) rotate(-90)" font-size="8.8" fill="#333" text-anchor="end" font-weight="normal" stroke="#333" stroke-width="0.22">HMD</text>
<line x1="226.05" y1="360.80" x2="226.05" y2="363.80" stroke="#111" stroke-width="1.0"/>
<text transform="translate(229.14999999999998,368.0) rotate(-90)" font-size="8.8" fill="#333" text-anchor="end" font-weight="normal" stroke="#333" stroke-width="0.22">PMD</text>
<line x1="244.45" y1="360.80" x2="301.45" y2="360.80" stroke="#111" stroke-width="1.5"/>
<line x1="255.85" y1="360.80" x2="255.85" y2="363.80" stroke="#111" stroke-width="1.0"/>
<text transform="translate(258.95,368.0) rotate(-90)" font-size="8.8" fill="#333" text-anchor="end" font-weight="normal" stroke="#333" stroke-width="0.22">all</text>
<line x1="273.65" y1="360.80" x2="273.65" y2="363.80" stroke="#111" stroke-width="1.0"/>
<text transform="translate(276.75,368.0) rotate(-90)" font-size="8.8" fill="#333" text-anchor="end" font-weight="normal" stroke="#333" stroke-width="0.22">HMD</text>
<line x1="291.45" y1="360.80" x2="291.45" y2="363.80" stroke="#111" stroke-width="1.0"/>
<text transform="translate(294.55,368.0) rotate(-90)" font-size="8.8" fill="#333" text-anchor="end" font-weight="normal" stroke="#333" stroke-width="0.22">PMD</text>
<line x1="309.25" y1="360.80" x2="366.25" y2="360.80" stroke="#111" stroke-width="1.5"/>
<line x1="320.65" y1="360.80" x2="320.65" y2="363.80" stroke="#111" stroke-width="1.0"/>
<text transform="translate(323.75,368.0) rotate(-90)" font-size="8.8" fill="#333" text-anchor="end" font-weight="normal" stroke="#333" stroke-width="0.22">all</text>
<line x1="338.45" y1="360.80" x2="338.45" y2="363.80" stroke="#111" stroke-width="1.0"/>
<text transform="translate(341.55,368.0) rotate(-90)" font-size="8.8" fill="#333" text-anchor="end" font-weight="normal" stroke="#333" stroke-width="0.22">HMD</text>
<line x1="356.25" y1="360.80" x2="356.25" y2="363.80" stroke="#111" stroke-width="1.0"/>
<text transform="translate(359.35,368.0) rotate(-90)" font-size="8.8" fill="#333" text-anchor="end" font-weight="normal" stroke="#333" stroke-width="0.22">PMD</text>
<line x1="374.15" y1="360.80" x2="431.15" y2="360.80" stroke="#111" stroke-width="1.5"/>
<line x1="385.55" y1="360.80" x2="385.55" y2="363.80" stroke="#111" stroke-width="1.0"/>
<text transform="translate(388.65000000000003,368.0) rotate(-90)" font-size="8.8" fill="#333" text-anchor="end" font-weight="normal" stroke="#333" stroke-width="0.22">all</text>
<line x1="403.35" y1="360.80" x2="403.35" y2="363.80" stroke="#111" stroke-width="1.0"/>
<text transform="translate(406.45000000000005,368.0) rotate(-90)" font-size="8.8" fill="#333" text-anchor="end" font-weight="normal" stroke="#333" stroke-width="0.22">HMD</text>
<line x1="421.15" y1="360.80" x2="421.15" y2="363.80" stroke="#111" stroke-width="1.0"/>
<text transform="translate(424.25000000000006,368.0) rotate(-90)" font-size="8.8" fill="#333" text-anchor="end" font-weight="normal" stroke="#333" stroke-width="0.22">PMD</text>
<line x1="438.85" y1="360.80" x2="495.85" y2="360.80" stroke="#111" stroke-width="1.5"/>
<line x1="450.25" y1="360.80" x2="450.25" y2="363.80" stroke="#111" stroke-width="1.0"/>
<text transform="translate(453.35,368.0) rotate(-90)" font-size="8.8" fill="#333" text-anchor="end" font-weight="normal" stroke="#333" stroke-width="0.22">all</text>
<line x1="468.05" y1="360.80" x2="468.05" y2="363.80" stroke="#111" stroke-width="1.0"/>
<text transform="translate(471.15000000000003,368.0) rotate(-90)" font-size="8.8" fill="#333" text-anchor="end" font-weight="normal" stroke="#333" stroke-width="0.22">HMD</text>
<line x1="485.85" y1="360.80" x2="485.85" y2="363.80" stroke="#111" stroke-width="1.0"/>
<text transform="translate(488.95000000000005,368.0) rotate(-90)" font-size="8.8" fill="#333" text-anchor="end" font-weight="normal" stroke="#333" stroke-width="0.22">PMD</text>
<rect x="499.40" y="248.40" width="12.50" height="47.60" fill="#fff" stroke="#1a1a1a" stroke-width="1.3"/>
<text transform="translate(507.8,272.2) rotate(-90)" font-size="8.3" fill="#1e1e1e" text-anchor="middle" font-weight="normal" textLength="35.0" lengthAdjust="spacingAndGlyphs" stroke="#1e1e1e" stroke-width="0.22">CpG-rich</text>
<rect x="499.40" y="313.40" width="12.50" height="45.40" fill="#fff" stroke="#1a1a1a" stroke-width="1.3"/>
<text transform="translate(507.8,336.1) rotate(-90)" font-size="8.3" fill="#1e1e1e" text-anchor="middle" font-weight="normal" textLength="39.2" lengthAdjust="spacingAndGlyphs" stroke="#1e1e1e" stroke-width="0.22">CpG-poor</text>
<text transform="translate(19.9,303.7) rotate(-90)" font-size="8.8" fill="#151515" text-anchor="middle" font-weight="normal" textLength="104" lengthAdjust="spacingAndGlyphs" stroke="#151515" stroke-width="0.22">Unmethylated promoter fraction</text>
<text x="173.8" y="403.3" font-size="8.0" fill="#222" text-anchor="start" font-weight="normal" textLength="57.6" lengthAdjust="spacingAndGlyphs" stroke="#222" stroke-width="0.22">expression state</text>
<rect x="241.70" y="396.00" width="10.10" height="9.80" fill="#000000"/>
<text x="254.9" y="403.3" font-size="8.0" fill="#222" text-anchor="start" font-weight="normal" stroke="#222" stroke-width="0.22">Any</text>
<rect x="278.80" y="396.00" width="10.00" height="9.80" fill="#B8101E"/>
<text x="292.6" y="403.3" font-size="8.0" fill="#222" text-anchor="start" font-weight="normal" textLength="36.4" lengthAdjust="spacingAndGlyphs" stroke="#222" stroke-width="0.22">Expressed</text>
<rect x="339.80" y="396.00" width="9.90" height="9.80" fill="#3D4494"/>
<text x="353.6" y="403.3" font-size="8.0" fill="#222" text-anchor="start" font-weight="normal" stroke="#222" stroke-width="0.22">Silent</text>
<rect x="50.20" y="444.40" width="129.30" height="11.00" fill="#fff" stroke="#1a1a1a" stroke-width="1.3"/>
<text x="114.85" y="452.9" font-size="8.6" fill="#1e1e1e" text-anchor="middle" font-weight="normal" stroke="#1e1e1e" stroke-width="0.22">SPCs</text>
<rect x="196.20" y="444.40" width="129.80" height="11.00" fill="#fff" stroke="#1a1a1a" stroke-width="1.3"/>
<text x="261.1" y="452.9" font-size="8.6" fill="#1e1e1e" text-anchor="middle" font-weight="normal" stroke="#1e1e1e" stroke-width="0.22">Differentiated cells</text>
<rect x="343.50" y="444.40" width="129.10" height="11.00" fill="#fff" stroke="#1a1a1a" stroke-width="1.3"/>
<text x="408.05" y="452.9" font-size="8.6" fill="#1e1e1e" text-anchor="middle" font-weight="normal" stroke="#1e1e1e" stroke-width="0.22">Transformed cells</text>
<rect x="56.47" y="515.58" width="7.25" height="18.12" fill="#C40E1A"/>
<rect x="63.72" y="533.46" width="7.25" height="0.24" fill="#448444"/>
<rect x="70.97" y="528.50" width="7.25" height="5.20" fill="#434A9A"/>
<rect x="78.22" y="531.10" width="7.25" height="2.60" fill="#5E3A8E"/>
<rect x="85.47" y="480.90" width="7.25" height="52.80" fill="#575553"/>
<line x1="60.10" y1="514.39" x2="60.10" y2="517.08" stroke="#1a1a1a" stroke-width="1.1"/>
<line x1="58.90" y1="514.39" x2="61.30" y2="514.39" stroke="#1a1a1a" stroke-width="1.3"/>
<line x1="67.35" y1="532.91" x2="67.35" y2="533.70" stroke="#1a1a1a" stroke-width="1.1"/>
<line x1="66.15" y1="532.91" x2="68.55" y2="532.91" stroke="#1a1a1a" stroke-width="1.3"/>
<line x1="74.60" y1="526.69" x2="74.60" y2="530.00" stroke="#1a1a1a" stroke-width="1.1"/>
<line x1="73.40" y1="526.69" x2="75.80" y2="526.69" stroke="#1a1a1a" stroke-width="1.3"/>
<line x1="81.85" y1="530.55" x2="81.85" y2="532.60" stroke="#1a1a1a" stroke-width="1.1"/>
<line x1="80.65" y1="530.55" x2="83.05" y2="530.55" stroke="#1a1a1a" stroke-width="1.3"/>
<line x1="89.10" y1="479.17" x2="89.10" y2="482.40" stroke="#1a1a1a" stroke-width="1.1"/>
<line x1="87.90" y1="479.17" x2="90.30" y2="479.17" stroke="#1a1a1a" stroke-width="1.3"/>
<rect x="96.58" y="525.11" width="7.25" height="8.59" fill="#C40E1A"/>
<rect x="103.83" y="529.13" width="7.25" height="4.57" fill="#448444"/>
<rect x="111.08" y="513.92" width="7.25" height="19.78" fill="#434A9A"/>
<rect x="118.33" y="521.56" width="7.25" height="12.14" fill="#5E3A8E"/>
<rect x="125.58" y="500.37" width="7.25" height="33.33" fill="#575553"/>
<line x1="100.20" y1="522.59" x2="100.20" y2="526.61" stroke="#1a1a1a" stroke-width="1.1"/>
<line x1="99.00" y1="522.59" x2="101.40" y2="522.59" stroke="#1a1a1a" stroke-width="1.3"/>
<line x1="107.45" y1="527.00" x2="107.45" y2="530.63" stroke="#1a1a1a" stroke-width="1.1"/>
<line x1="106.25" y1="527.00" x2="108.65" y2="527.00" stroke="#1a1a1a" stroke-width="1.3"/>
<line x1="114.70" y1="511.01" x2="114.70" y2="515.42" stroke="#1a1a1a" stroke-width="1.1"/>
<line x1="113.50" y1="511.01" x2="115.90" y2="511.01" stroke="#1a1a1a" stroke-width="1.3"/>
<line x1="121.95" y1="515.89" x2="121.95" y2="523.06" stroke="#1a1a1a" stroke-width="1.1"/>
<line x1="120.75" y1="515.89" x2="123.15" y2="515.89" stroke="#1a1a1a" stroke-width="1.3"/>
<line x1="129.20" y1="494.69" x2="129.20" y2="501.87" stroke="#1a1a1a" stroke-width="1.1"/>
<line x1="128.00" y1="494.69" x2="130.40" y2="494.69" stroke="#1a1a1a" stroke-width="1.3"/>
<rect x="136.78" y="532.20" width="7.25" height="1.50" fill="#C40E1A"/>
<rect x="144.03" y="533.31" width="7.25" height="0.39" fill="#448444"/>
<rect x="151.28" y="531.41" width="7.25" height="2.29" fill="#434A9A"/>
<rect x="158.53" y="492.72" width="7.25" height="40.98" fill="#5E3A8E"/>
<rect x="165.78" y="498.87" width="7.25" height="34.83" fill="#575553"/>
<line x1="140.40" y1="531.97" x2="140.40" y2="533.70" stroke="#1a1a1a" stroke-width="1.1"/>
<line x1="139.20" y1="531.97" x2="141.60" y2="531.97" stroke="#1a1a1a" stroke-width="1.3"/>
<line x1="147.65" y1="533.07" x2="147.65" y2="533.70" stroke="#1a1a1a" stroke-width="1.1"/>
<line x1="146.45" y1="533.07" x2="148.85" y2="533.07" stroke="#1a1a1a" stroke-width="1.3"/>
<line x1="154.90" y1="531.10" x2="154.90" y2="532.91" stroke="#1a1a1a" stroke-width="1.1"/>
<line x1="153.70" y1="531.10" x2="156.10" y2="531.10" stroke="#1a1a1a" stroke-width="1.3"/>
<line x1="162.15" y1="482.87" x2="162.15" y2="494.22" stroke="#1a1a1a" stroke-width="1.1"/>
<line x1="160.95" y1="482.87" x2="163.35" y2="482.87" stroke="#1a1a1a" stroke-width="1.3"/>
<line x1="169.40" y1="489.10" x2="169.40" y2="500.37" stroke="#1a1a1a" stroke-width="1.1"/>
<line x1="168.20" y1="489.10" x2="170.60" y2="489.10" stroke="#1a1a1a" stroke-width="1.3"/>
<line x1="50.40" y1="537.30" x2="173.80" y2="537.30" stroke="#111" stroke-width="1.5"/>
<line x1="74.60" y1="537.30" x2="74.60" y2="540.00" stroke="#111" stroke-width="1.0"/>
<text x="75.3" y="551.9" font-size="8.9" fill="#333" text-anchor="middle" font-weight="normal" stroke="#333" stroke-width="0.22">HMD</text>
<line x1="114.70" y1="537.30" x2="114.70" y2="540.00" stroke="#111" stroke-width="1.0"/>
<text x="115.4" y="551.9" font-size="8.9" fill="#333" text-anchor="middle" font-weight="normal" stroke="#333" stroke-width="0.22">s&#8722;PMD</text>
<line x1="154.90" y1="537.30" x2="154.90" y2="540.00" stroke="#111" stroke-width="1.0"/>
<text x="155.6" y="551.9" font-size="8.9" fill="#333" text-anchor="middle" font-weight="normal" stroke="#333" stroke-width="0.22">l&#8722;PMD</text>
<clipPath id="cp0"><rect x="50.4" y="558.0" width="123.19999999999999" height="79.5"/></clipPath>
<g clip-path="url(#cp0)">
<rect x="56.07" y="589.30" width="7.25" height="0.00" fill="#C40E1A"/>
<rect x="63.32" y="589.30" width="7.25" height="3.10" fill="#448444"/>
<rect x="70.57" y="589.30" width="7.25" height="1.13" fill="#434A9A"/>
<rect x="77.82" y="589.30" width="7.25" height="1.97" fill="#5E3A8E"/>
<rect x="85.07" y="589.30" width="7.25" height="0.00" fill="#575553"/>
<line x1="59.70" y1="588.74" x2="59.70" y2="589.86" stroke="#1a1a1a" stroke-width="1.1"/>
<line x1="58.50" y1="588.74" x2="60.90" y2="588.74" stroke="#1a1a1a" stroke-width="1.3"/>
<line x1="58.50" y1="589.86" x2="60.90" y2="589.86" stroke="#1a1a1a" stroke-width="1.3"/>
<line x1="66.95" y1="590.99" x2="66.95" y2="593.81" stroke="#1a1a1a" stroke-width="1.1"/>
<line x1="65.75" y1="590.99" x2="68.15" y2="590.99" stroke="#1a1a1a" stroke-width="1.3"/>
<line x1="65.75" y1="593.81" x2="68.15" y2="593.81" stroke="#1a1a1a" stroke-width="1.3"/>
<line x1="74.20" y1="589.58" x2="74.20" y2="591.27" stroke="#1a1a1a" stroke-width="1.1"/>
<line x1="73.00" y1="589.58" x2="75.40" y2="589.58" stroke="#1a1a1a" stroke-width="1.3"/>
<line x1="73.00" y1="591.27" x2="75.40" y2="591.27" stroke="#1a1a1a" stroke-width="1.3"/>
<line x1="81.45" y1="590.43" x2="81.45" y2="592.12" stroke="#1a1a1a" stroke-width="1.1"/>
<line x1="80.25" y1="590.43" x2="82.65" y2="590.43" stroke="#1a1a1a" stroke-width="1.3"/>
<line x1="80.25" y1="592.12" x2="82.65" y2="592.12" stroke="#1a1a1a" stroke-width="1.3"/>
<line x1="88.70" y1="588.74" x2="88.70" y2="589.86" stroke="#1a1a1a" stroke-width="1.1"/>
<line x1="87.50" y1="588.74" x2="89.90" y2="588.74" stroke="#1a1a1a" stroke-width="1.3"/>
<line x1="87.50" y1="589.86" x2="89.90" y2="589.86" stroke="#1a1a1a" stroke-width="1.3"/>
<rect x="96.17" y="589.30" width="7.25" height="5.64" fill="#C40E1A"/>
<rect x="103.42" y="570.12" width="7.25" height="19.18" fill="#448444"/>
<rect x="110.67" y="580.28" width="7.25" height="9.02" fill="#434A9A"/>
<rect x="117.92" y="578.70" width="7.25" height="10.60" fill="#5E3A8E"/>
<rect x="125.17" y="589.30" width="7.25" height="3.10" fill="#575553"/>
<line x1="99.80" y1="590.15" x2="99.80" y2="600.86" stroke="#1a1a1a" stroke-width="1.1"/>
<line x1="98.60" y1="590.15" x2="101.00" y2="590.15" stroke="#1a1a1a" stroke-width="1.3"/>
<line x1="98.60" y1="600.86" x2="101.00" y2="600.86" stroke="#1a1a1a" stroke-width="1.3"/>
<line x1="107.05" y1="568.71" x2="107.05" y2="571.25" stroke="#1a1a1a" stroke-width="1.1"/>
<line x1="105.85" y1="568.71" x2="108.25" y2="568.71" stroke="#1a1a1a" stroke-width="1.3"/>
<line x1="105.85" y1="571.25" x2="108.25" y2="571.25" stroke="#1a1a1a" stroke-width="1.3"/>
<line x1="114.30" y1="578.02" x2="114.30" y2="581.97" stroke="#1a1a1a" stroke-width="1.1"/>
<line x1="113.10" y1="578.02" x2="115.50" y2="578.02" stroke="#1a1a1a" stroke-width="1.3"/>
<line x1="113.10" y1="581.97" x2="115.50" y2="581.97" stroke="#1a1a1a" stroke-width="1.3"/>
<line x1="121.55" y1="576.33" x2="121.55" y2="580.84" stroke="#1a1a1a" stroke-width="1.1"/>
<line x1="120.35" y1="576.33" x2="122.75" y2="576.33" stroke="#1a1a1a" stroke-width="1.3"/>
<line x1="120.35" y1="580.84" x2="122.75" y2="580.84" stroke="#1a1a1a" stroke-width="1.3"/>
<line x1="128.80" y1="589.30" x2="128.80" y2="596.63" stroke="#1a1a1a" stroke-width="1.1"/>
<line x1="127.60" y1="589.30" x2="130.00" y2="589.30" stroke="#1a1a1a" stroke-width="1.3"/>
<line x1="127.60" y1="596.63" x2="130.00" y2="596.63" stroke="#1a1a1a" stroke-width="1.3"/>
<rect x="136.38" y="589.30" width="7.25" height="22.00" fill="#C40E1A"/>
<rect x="143.62" y="589.30" width="7.25" height="12.97" fill="#448444"/>
<rect x="150.88" y="589.30" width="7.25" height="10.15" fill="#434A9A"/>
<rect x="158.12" y="568.43" width="7.25" height="20.87" fill="#5E3A8E"/>
<rect x="165.38" y="589.30" width="7.25" height="3.10" fill="#575553"/>
</g>
<line x1="50.40" y1="637.50" x2="173.60" y2="637.50" stroke="#111" stroke-width="1.5"/>
<line x1="74.20" y1="637.50" x2="74.20" y2="640.20" stroke="#111" stroke-width="1.0"/>
<text x="74.89999999999999" y="652.1" font-size="8.9" fill="#333" text-anchor="middle" font-weight="normal" stroke="#333" stroke-width="0.22">HMD</text>
<line x1="114.30" y1="637.50" x2="114.30" y2="640.20" stroke="#111" stroke-width="1.0"/>
<text x="115.0" y="652.1" font-size="8.9" fill="#333" text-anchor="middle" font-weight="normal" stroke="#333" stroke-width="0.22">s&#8722;PMD</text>
<line x1="154.50" y1="637.50" x2="154.50" y2="640.20" stroke="#111" stroke-width="1.0"/>
<text x="155.2" y="652.1" font-size="8.9" fill="#333" text-anchor="middle" font-weight="normal" stroke="#333" stroke-width="0.22">l&#8722;PMD</text>
<rect x="203.38" y="493.04" width="7.25" height="40.66" fill="#C40E1A"/>
<rect x="210.62" y="533.31" width="7.25" height="0.39" fill="#448444"/>
<rect x="217.88" y="530.31" width="7.25" height="3.39" fill="#434A9A"/>
<rect x="225.12" y="532.68" width="7.25" height="1.02" fill="#5E3A8E"/>
<rect x="232.38" y="501.00" width="7.25" height="32.70" fill="#575553"/>
<line x1="207.00" y1="486.89" x2="207.00" y2="494.54" stroke="#1a1a1a" stroke-width="1.1"/>
<line x1="205.80" y1="486.89" x2="208.20" y2="486.89" stroke="#1a1a1a" stroke-width="1.3"/>
<line x1="214.25" y1="532.99" x2="214.25" y2="533.70" stroke="#1a1a1a" stroke-width="1.1"/>
<line x1="213.05" y1="532.99" x2="215.45" y2="532.99" stroke="#1a1a1a" stroke-width="1.3"/>
<line x1="221.50" y1="528.03" x2="221.50" y2="531.81" stroke="#1a1a1a" stroke-width="1.1"/>
<line x1="220.30" y1="528.03" x2="222.70" y2="528.03" stroke="#1a1a1a" stroke-width="1.3"/>
<line x1="228.75" y1="532.28" x2="228.75" y2="533.70" stroke="#1a1a1a" stroke-width="1.1"/>
<line x1="227.55" y1="532.28" x2="229.95" y2="532.28" stroke="#1a1a1a" stroke-width="1.3"/>
<line x1="236.00" y1="496.11" x2="236.00" y2="502.50" stroke="#1a1a1a" stroke-width="1.1"/>
<line x1="234.80" y1="496.11" x2="237.20" y2="496.11" stroke="#1a1a1a" stroke-width="1.3"/>
<rect x="243.68" y="525.98" width="7.25" height="7.72" fill="#C40E1A"/>
<rect x="250.93" y="533.31" width="7.25" height="0.39" fill="#448444"/>
<rect x="258.18" y="513.61" width="7.25" height="20.09" fill="#434A9A"/>
<rect x="265.43" y="530.00" width="7.25" height="3.70" fill="#5E3A8E"/>
<rect x="272.68" y="486.89" width="7.25" height="46.81" fill="#575553"/>
<line x1="247.30" y1="524.32" x2="247.30" y2="527.48" stroke="#1a1a1a" stroke-width="1.1"/>
<line x1="246.10" y1="524.32" x2="248.50" y2="524.32" stroke="#1a1a1a" stroke-width="1.3"/>
<line x1="254.55" y1="533.07" x2="254.55" y2="533.70" stroke="#1a1a1a" stroke-width="1.1"/>
<line x1="253.35" y1="533.07" x2="255.75" y2="533.07" stroke="#1a1a1a" stroke-width="1.3"/>
<line x1="261.80" y1="503.76" x2="261.80" y2="515.11" stroke="#1a1a1a" stroke-width="1.1"/>
<line x1="260.60" y1="503.76" x2="263.00" y2="503.76" stroke="#1a1a1a" stroke-width="1.3"/>
<line x1="269.05" y1="528.97" x2="269.05" y2="531.50" stroke="#1a1a1a" stroke-width="1.1"/>
<line x1="267.85" y1="528.97" x2="270.25" y2="528.97" stroke="#1a1a1a" stroke-width="1.3"/>
<line x1="276.30" y1="477.52" x2="276.30" y2="488.39" stroke="#1a1a1a" stroke-width="1.1"/>
<line x1="275.10" y1="477.52" x2="277.50" y2="477.52" stroke="#1a1a1a" stroke-width="1.3"/>
<rect x="283.88" y="533.07" width="7.25" height="0.63" fill="#C40E1A"/>
<rect x="291.12" y="533.38" width="7.25" height="0.32" fill="#448444"/>
<rect x="298.38" y="523.93" width="7.25" height="9.77" fill="#434A9A"/>
<rect x="305.62" y="526.92" width="7.25" height="6.78" fill="#5E3A8E"/>
<rect x="312.88" y="473.02" width="7.25" height="60.68" fill="#575553"/>
<line x1="287.50" y1="532.91" x2="287.50" y2="533.70" stroke="#1a1a1a" stroke-width="1.1"/>
<line x1="286.30" y1="532.91" x2="288.70" y2="532.91" stroke="#1a1a1a" stroke-width="1.3"/>
<line x1="294.75" y1="533.23" x2="294.75" y2="533.70" stroke="#1a1a1a" stroke-width="1.1"/>
<line x1="293.55" y1="533.23" x2="295.95" y2="533.23" stroke="#1a1a1a" stroke-width="1.3"/>
<line x1="302.00" y1="518.96" x2="302.00" y2="525.43" stroke="#1a1a1a" stroke-width="1.1"/>
<line x1="300.80" y1="518.96" x2="303.20" y2="518.96" stroke="#1a1a1a" stroke-width="1.3"/>
<line x1="309.25" y1="523.30" x2="309.25" y2="528.42" stroke="#1a1a1a" stroke-width="1.1"/>
<line x1="308.05" y1="523.30" x2="310.45" y2="523.30" stroke="#1a1a1a" stroke-width="1.3"/>
<line x1="316.50" y1="466.01" x2="316.50" y2="474.52" stroke="#1a1a1a" stroke-width="1.1"/>
<line x1="315.30" y1="466.01" x2="317.70" y2="466.01" stroke="#1a1a1a" stroke-width="1.3"/>
<line x1="197.50" y1="537.30" x2="326.00" y2="537.30" stroke="#111" stroke-width="1.5"/>
<line x1="221.50" y1="537.30" x2="221.50" y2="540.00" stroke="#111" stroke-width="1.0"/>
<text x="222.2" y="551.9" font-size="8.9" fill="#333" text-anchor="middle" font-weight="normal" stroke="#333" stroke-width="0.22">HMD</text>
<line x1="261.80" y1="537.30" x2="261.80" y2="540.00" stroke="#111" stroke-width="1.0"/>
<text x="262.5" y="551.9" font-size="8.9" fill="#333" text-anchor="middle" font-weight="normal" stroke="#333" stroke-width="0.22">s&#8722;PMD</text>
<line x1="302.00" y1="537.30" x2="302.00" y2="540.00" stroke="#111" stroke-width="1.0"/>
<text x="302.7" y="551.9" font-size="8.9" fill="#333" text-anchor="middle" font-weight="normal" stroke="#333" stroke-width="0.22">l&#8722;PMD</text>
<clipPath id="cp1"><rect x="197.0" y="558.0" width="128.7" height="79.5"/></clipPath>
<g clip-path="url(#cp1)">
<rect x="202.47" y="583.38" width="7.25" height="5.92" fill="#C40E1A"/>
<rect x="209.72" y="589.30" width="7.25" height="6.77" fill="#448444"/>
<rect x="216.97" y="589.30" width="7.25" height="7.61" fill="#434A9A"/>
<rect x="224.22" y="589.30" width="7.25" height="7.90" fill="#5E3A8E"/>
<rect x="231.47" y="589.30" width="7.25" height="1.97" fill="#575553"/>
<line x1="206.10" y1="582.25" x2="206.10" y2="584.22" stroke="#1a1a1a" stroke-width="1.1"/>
<line x1="204.90" y1="582.25" x2="207.30" y2="582.25" stroke="#1a1a1a" stroke-width="1.3"/>
<line x1="204.90" y1="584.22" x2="207.30" y2="584.22" stroke="#1a1a1a" stroke-width="1.3"/>
<line x1="213.35" y1="592.68" x2="213.35" y2="600.02" stroke="#1a1a1a" stroke-width="1.1"/>
<line x1="212.15" y1="592.68" x2="214.55" y2="592.68" stroke="#1a1a1a" stroke-width="1.3"/>
<line x1="212.15" y1="600.02" x2="214.55" y2="600.02" stroke="#1a1a1a" stroke-width="1.3"/>
<line x1="220.60" y1="590.99" x2="220.60" y2="603.40" stroke="#1a1a1a" stroke-width="1.1"/>
<line x1="219.40" y1="590.99" x2="221.80" y2="590.99" stroke="#1a1a1a" stroke-width="1.3"/>
<line x1="219.40" y1="603.40" x2="221.80" y2="603.40" stroke="#1a1a1a" stroke-width="1.3"/>
<line x1="227.85" y1="587.61" x2="227.85" y2="607.35" stroke="#1a1a1a" stroke-width="1.1"/>
<line x1="226.65" y1="587.61" x2="229.05" y2="587.61" stroke="#1a1a1a" stroke-width="1.3"/>
<line x1="226.65" y1="607.35" x2="229.05" y2="607.35" stroke="#1a1a1a" stroke-width="1.3"/>
<line x1="235.10" y1="589.58" x2="235.10" y2="593.25" stroke="#1a1a1a" stroke-width="1.1"/>
<line x1="233.90" y1="589.58" x2="236.30" y2="589.58" stroke="#1a1a1a" stroke-width="1.3"/>
<line x1="233.90" y1="593.25" x2="236.30" y2="593.25" stroke="#1a1a1a" stroke-width="1.3"/>
<rect x="242.78" y="589.30" width="7.25" height="7.61" fill="#C40E1A"/>
<rect x="250.03" y="581.12" width="7.25" height="8.18" fill="#448444"/>
<rect x="257.28" y="583.10" width="7.25" height="6.20" fill="#434A9A"/>
<rect x="264.53" y="587.89" width="7.25" height="1.41" fill="#5E3A8E"/>
<rect x="271.78" y="589.30" width="7.25" height="0.56" fill="#575553"/>
<line x1="246.40" y1="592.12" x2="246.40" y2="602.27" stroke="#1a1a1a" stroke-width="1.1"/>
<line x1="245.20" y1="592.12" x2="247.60" y2="592.12" stroke="#1a1a1a" stroke-width="1.3"/>
<line x1="245.20" y1="602.27" x2="247.60" y2="602.27" stroke="#1a1a1a" stroke-width="1.3"/>
<line x1="253.65" y1="579.71" x2="253.65" y2="582.25" stroke="#1a1a1a" stroke-width="1.1"/>
<line x1="252.45" y1="579.71" x2="254.85" y2="579.71" stroke="#1a1a1a" stroke-width="1.3"/>
<line x1="252.45" y1="582.25" x2="254.85" y2="582.25" stroke="#1a1a1a" stroke-width="1.3"/>
<line x1="260.90" y1="582.25" x2="260.90" y2="583.94" stroke="#1a1a1a" stroke-width="1.1"/>
<line x1="259.70" y1="582.25" x2="262.10" y2="582.25" stroke="#1a1a1a" stroke-width="1.3"/>
<line x1="259.70" y1="583.94" x2="262.10" y2="583.94" stroke="#1a1a1a" stroke-width="1.3"/>
<line x1="268.15" y1="586.76" x2="268.15" y2="588.74" stroke="#1a1a1a" stroke-width="1.1"/>
<line x1="266.95" y1="586.76" x2="269.35" y2="586.76" stroke="#1a1a1a" stroke-width="1.3"/>
<line x1="266.95" y1="588.74" x2="269.35" y2="588.74" stroke="#1a1a1a" stroke-width="1.3"/>
<line x1="275.40" y1="589.30" x2="275.40" y2="590.43" stroke="#1a1a1a" stroke-width="1.1"/>
<line x1="274.20" y1="589.30" x2="276.60" y2="589.30" stroke="#1a1a1a" stroke-width="1.3"/>
<line x1="274.20" y1="590.43" x2="276.60" y2="590.43" stroke="#1a1a1a" stroke-width="1.3"/>
<rect x="282.98" y="589.30" width="7.25" height="24.53" fill="#C40E1A"/>
<rect x="290.23" y="589.30" width="7.25" height="1.69" fill="#448444"/>
<rect x="297.48" y="586.76" width="7.25" height="2.54" fill="#434A9A"/>
<rect x="304.73" y="584.51" width="7.25" height="4.79" fill="#5E3A8E"/>
<rect x="311.98" y="587.61" width="7.25" height="1.69" fill="#575553"/>
<line x1="286.60" y1="556.02" x2="286.60" y2="640.06" stroke="#1a1a1a" stroke-width="1.1"/>
<line x1="285.40" y1="556.02" x2="287.80" y2="556.02" stroke="#1a1a1a" stroke-width="1.3"/>
<line x1="285.40" y1="640.06" x2="287.80" y2="640.06" stroke="#1a1a1a" stroke-width="1.3"/>
<line x1="293.85" y1="588.74" x2="293.85" y2="593.81" stroke="#1a1a1a" stroke-width="1.1"/>
<line x1="292.65" y1="588.74" x2="295.05" y2="588.74" stroke="#1a1a1a" stroke-width="1.3"/>
<line x1="292.65" y1="593.81" x2="295.05" y2="593.81" stroke="#1a1a1a" stroke-width="1.3"/>
<line x1="301.10" y1="585.92" x2="301.10" y2="587.61" stroke="#1a1a1a" stroke-width="1.1"/>
<line x1="299.90" y1="585.92" x2="302.30" y2="585.92" stroke="#1a1a1a" stroke-width="1.3"/>
<line x1="299.90" y1="587.61" x2="302.30" y2="587.61" stroke="#1a1a1a" stroke-width="1.3"/>
<line x1="308.35" y1="583.38" x2="308.35" y2="585.63" stroke="#1a1a1a" stroke-width="1.1"/>
<line x1="307.15" y1="583.38" x2="309.55" y2="583.38" stroke="#1a1a1a" stroke-width="1.3"/>
<line x1="307.15" y1="585.63" x2="309.55" y2="585.63" stroke="#1a1a1a" stroke-width="1.3"/>
<line x1="315.60" y1="586.48" x2="315.60" y2="588.45" stroke="#1a1a1a" stroke-width="1.1"/>
<line x1="314.40" y1="586.48" x2="316.80" y2="586.48" stroke="#1a1a1a" stroke-width="1.3"/>
<line x1="314.40" y1="588.45" x2="316.80" y2="588.45" stroke="#1a1a1a" stroke-width="1.3"/>
</g>
<line x1="197.00" y1="637.50" x2="325.70" y2="637.50" stroke="#111" stroke-width="1.5"/>
<line x1="220.60" y1="637.50" x2="220.60" y2="640.20" stroke="#111" stroke-width="1.0"/>
<text x="221.29999999999998" y="652.1" font-size="8.9" fill="#333" text-anchor="middle" font-weight="normal" stroke="#333" stroke-width="0.22">HMD</text>
<line x1="260.90" y1="637.50" x2="260.90" y2="640.20" stroke="#111" stroke-width="1.0"/>
<text x="261.6" y="652.1" font-size="8.9" fill="#333" text-anchor="middle" font-weight="normal" stroke="#333" stroke-width="0.22">s&#8722;PMD</text>
<line x1="301.10" y1="637.50" x2="301.10" y2="640.20" stroke="#111" stroke-width="1.0"/>
<text x="301.8" y="652.1" font-size="8.9" fill="#333" text-anchor="middle" font-weight="normal" stroke="#333" stroke-width="0.22">l&#8722;PMD</text>
<rect x="350.68" y="464.36" width="7.25" height="69.34" fill="#C40E1A"/>
<rect x="357.93" y="533.46" width="7.25" height="0.24" fill="#448444"/>
<rect x="365.18" y="533.46" width="7.25" height="0.24" fill="#434A9A"/>
<rect x="372.43" y="533.31" width="7.25" height="0.39" fill="#5E3A8E"/>
<rect x="379.68" y="525.27" width="7.25" height="8.43" fill="#575553"/>
<line x1="354.30" y1="462.39" x2="354.30" y2="465.86" stroke="#1a1a1a" stroke-width="1.1"/>
<line x1="353.10" y1="462.39" x2="355.50" y2="462.39" stroke="#1a1a1a" stroke-width="1.3"/>
<line x1="361.55" y1="533.23" x2="361.55" y2="533.70" stroke="#1a1a1a" stroke-width="1.1"/>
<line x1="360.35" y1="533.23" x2="362.75" y2="533.23" stroke="#1a1a1a" stroke-width="1.3"/>
<line x1="368.80" y1="533.23" x2="368.80" y2="533.70" stroke="#1a1a1a" stroke-width="1.1"/>
<line x1="367.60" y1="533.23" x2="370.00" y2="533.23" stroke="#1a1a1a" stroke-width="1.3"/>
<line x1="376.05" y1="532.99" x2="376.05" y2="533.70" stroke="#1a1a1a" stroke-width="1.1"/>
<line x1="374.85" y1="532.99" x2="377.25" y2="532.99" stroke="#1a1a1a" stroke-width="1.3"/>
<line x1="383.30" y1="522.98" x2="383.30" y2="526.77" stroke="#1a1a1a" stroke-width="1.1"/>
<line x1="382.10" y1="522.98" x2="384.50" y2="522.98" stroke="#1a1a1a" stroke-width="1.3"/>
<rect x="391.07" y="496.03" width="7.25" height="37.67" fill="#C40E1A"/>
<rect x="398.32" y="532.36" width="7.25" height="1.34" fill="#448444"/>
<rect x="405.57" y="517.70" width="7.25" height="16.00" fill="#434A9A"/>
<rect x="412.82" y="533.31" width="7.25" height="0.39" fill="#5E3A8E"/>
<rect x="420.07" y="511.32" width="7.25" height="22.38" fill="#575553"/>
<line x1="394.70" y1="493.98" x2="394.70" y2="497.53" stroke="#1a1a1a" stroke-width="1.1"/>
<line x1="393.50" y1="493.98" x2="395.90" y2="493.98" stroke="#1a1a1a" stroke-width="1.3"/>
<line x1="401.95" y1="530.63" x2="401.95" y2="533.70" stroke="#1a1a1a" stroke-width="1.1"/>
<line x1="400.75" y1="530.63" x2="403.15" y2="530.63" stroke="#1a1a1a" stroke-width="1.3"/>
<line x1="409.20" y1="514.08" x2="409.20" y2="519.20" stroke="#1a1a1a" stroke-width="1.1"/>
<line x1="408.00" y1="514.08" x2="410.40" y2="514.08" stroke="#1a1a1a" stroke-width="1.3"/>
<line x1="416.45" y1="532.99" x2="416.45" y2="533.70" stroke="#1a1a1a" stroke-width="1.1"/>
<line x1="415.25" y1="532.99" x2="417.65" y2="532.99" stroke="#1a1a1a" stroke-width="1.3"/>
<line x1="423.70" y1="508.72" x2="423.70" y2="512.82" stroke="#1a1a1a" stroke-width="1.1"/>
<line x1="422.50" y1="508.72" x2="424.90" y2="508.72" stroke="#1a1a1a" stroke-width="1.3"/>
<rect x="431.48" y="527.08" width="7.25" height="6.62" fill="#C40E1A"/>
<rect x="438.73" y="533.46" width="7.25" height="0.24" fill="#448444"/>
<rect x="445.98" y="519.91" width="7.25" height="13.79" fill="#434A9A"/>
<rect x="453.23" y="529.29" width="7.25" height="4.41" fill="#5E3A8E"/>
<rect x="460.48" y="480.98" width="7.25" height="52.72" fill="#575553"/>
<line x1="435.10" y1="526.14" x2="435.10" y2="528.58" stroke="#1a1a1a" stroke-width="1.1"/>
<line x1="433.90" y1="526.14" x2="436.30" y2="526.14" stroke="#1a1a1a" stroke-width="1.3"/>
<line x1="442.35" y1="533.23" x2="442.35" y2="533.70" stroke="#1a1a1a" stroke-width="1.1"/>
<line x1="441.15" y1="533.23" x2="443.55" y2="533.23" stroke="#1a1a1a" stroke-width="1.3"/>
<line x1="449.60" y1="517.31" x2="449.60" y2="521.41" stroke="#1a1a1a" stroke-width="1.1"/>
<line x1="448.40" y1="517.31" x2="450.80" y2="517.31" stroke="#1a1a1a" stroke-width="1.3"/>
<line x1="456.85" y1="524.72" x2="456.85" y2="530.79" stroke="#1a1a1a" stroke-width="1.1"/>
<line x1="455.65" y1="524.72" x2="458.05" y2="524.72" stroke="#1a1a1a" stroke-width="1.3"/>
<line x1="464.10" y1="474.52" x2="464.10" y2="482.48" stroke="#1a1a1a" stroke-width="1.1"/>
<line x1="462.90" y1="474.52" x2="465.30" y2="474.52" stroke="#1a1a1a" stroke-width="1.3"/>
<line x1="345.00" y1="537.30" x2="474.20" y2="537.30" stroke="#111" stroke-width="1.5"/>
<line x1="368.80" y1="537.30" x2="368.80" y2="540.00" stroke="#111" stroke-width="1.0"/>
<text x="369.5" y="551.9" font-size="8.9" fill="#333" text-anchor="middle" font-weight="normal" stroke="#333" stroke-width="0.22">HMD</text>
<line x1="409.20" y1="537.30" x2="409.20" y2="540.00" stroke="#111" stroke-width="1.0"/>
<text x="409.9" y="551.9" font-size="8.9" fill="#333" text-anchor="middle" font-weight="normal" stroke="#333" stroke-width="0.22">s&#8722;PMD</text>
<line x1="449.60" y1="537.30" x2="449.60" y2="540.00" stroke="#111" stroke-width="1.0"/>
<text x="450.3" y="551.9" font-size="8.9" fill="#333" text-anchor="middle" font-weight="normal" stroke="#333" stroke-width="0.22">l&#8722;PMD</text>
<clipPath id="cp2"><rect x="343.8" y="558.0" width="128.39999999999998" height="79.5"/></clipPath>
<g clip-path="url(#cp2)">
<rect x="349.48" y="578.30" width="7.25" height="11.00" fill="#C40E1A"/>
<rect x="356.73" y="589.30" width="7.25" height="9.02" fill="#448444"/>
<rect x="363.98" y="589.30" width="7.25" height="33.84" fill="#434A9A"/>
<rect x="371.23" y="588.74" width="7.25" height="0.56" fill="#5E3A8E"/>
<rect x="378.48" y="589.30" width="7.25" height="12.41" fill="#575553"/>
<line x1="353.10" y1="577.46" x2="353.10" y2="579.15" stroke="#1a1a1a" stroke-width="1.1"/>
<line x1="351.90" y1="577.46" x2="354.30" y2="577.46" stroke="#1a1a1a" stroke-width="1.3"/>
<line x1="351.90" y1="579.15" x2="354.30" y2="579.15" stroke="#1a1a1a" stroke-width="1.3"/>
<line x1="360.35" y1="568.43" x2="360.35" y2="629.34" stroke="#1a1a1a" stroke-width="1.1"/>
<line x1="359.15" y1="568.43" x2="361.55" y2="568.43" stroke="#1a1a1a" stroke-width="1.3"/>
<line x1="359.15" y1="629.34" x2="361.55" y2="629.34" stroke="#1a1a1a" stroke-width="1.3"/>
<line x1="367.60" y1="556.02" x2="367.60" y2="640.06" stroke="#1a1a1a" stroke-width="1.1"/>
<line x1="366.40" y1="556.02" x2="368.80" y2="556.02" stroke="#1a1a1a" stroke-width="1.3"/>
<line x1="366.40" y1="640.06" x2="368.80" y2="640.06" stroke="#1a1a1a" stroke-width="1.3"/>
<line x1="374.85" y1="588.17" x2="374.85" y2="595.22" stroke="#1a1a1a" stroke-width="1.1"/>
<line x1="373.65" y1="588.17" x2="376.05" y2="588.17" stroke="#1a1a1a" stroke-width="1.3"/>
<line x1="373.65" y1="595.22" x2="376.05" y2="595.22" stroke="#1a1a1a" stroke-width="1.3"/>
<line x1="382.10" y1="571.25" x2="382.10" y2="632.16" stroke="#1a1a1a" stroke-width="1.1"/>
<line x1="380.90" y1="571.25" x2="383.30" y2="571.25" stroke="#1a1a1a" stroke-width="1.3"/>
<line x1="380.90" y1="632.16" x2="383.30" y2="632.16" stroke="#1a1a1a" stroke-width="1.3"/>
<rect x="389.88" y="583.10" width="7.25" height="6.20" fill="#C40E1A"/>
<rect x="397.12" y="580.56" width="7.25" height="8.74" fill="#448444"/>
<rect x="404.38" y="587.89" width="7.25" height="1.41" fill="#434A9A"/>
<rect x="411.62" y="589.30" width="7.25" height="1.41" fill="#5E3A8E"/>
<rect x="418.88" y="589.30" width="7.25" height="4.79" fill="#575553"/>
<line x1="393.50" y1="581.97" x2="393.50" y2="584.22" stroke="#1a1a1a" stroke-width="1.1"/>
<line x1="392.30" y1="581.97" x2="394.70" y2="581.97" stroke="#1a1a1a" stroke-width="1.3"/>
<line x1="392.30" y1="584.22" x2="394.70" y2="584.22" stroke="#1a1a1a" stroke-width="1.3"/>
<line x1="400.75" y1="579.43" x2="400.75" y2="581.69" stroke="#1a1a1a" stroke-width="1.1"/>
<line x1="399.55" y1="579.43" x2="401.95" y2="579.43" stroke="#1a1a1a" stroke-width="1.3"/>
<line x1="399.55" y1="581.69" x2="401.95" y2="581.69" stroke="#1a1a1a" stroke-width="1.3"/>
<line x1="408.00" y1="587.33" x2="408.00" y2="588.45" stroke="#1a1a1a" stroke-width="1.1"/>
<line x1="406.80" y1="587.33" x2="409.20" y2="587.33" stroke="#1a1a1a" stroke-width="1.3"/>
<line x1="406.80" y1="588.45" x2="409.20" y2="588.45" stroke="#1a1a1a" stroke-width="1.3"/>
<line x1="415.25" y1="589.30" x2="415.25" y2="593.25" stroke="#1a1a1a" stroke-width="1.1"/>
<line x1="414.05" y1="589.30" x2="416.45" y2="589.30" stroke="#1a1a1a" stroke-width="1.3"/>
<line x1="414.05" y1="593.25" x2="416.45" y2="593.25" stroke="#1a1a1a" stroke-width="1.3"/>
<line x1="422.50" y1="589.86" x2="422.50" y2="598.89" stroke="#1a1a1a" stroke-width="1.1"/>
<line x1="421.30" y1="589.86" x2="423.70" y2="589.86" stroke="#1a1a1a" stroke-width="1.3"/>
<line x1="421.30" y1="598.89" x2="423.70" y2="598.89" stroke="#1a1a1a" stroke-width="1.3"/>
<rect x="430.28" y="589.30" width="7.25" height="7.61" fill="#C40E1A"/>
<rect x="437.53" y="589.30" width="7.25" height="2.54" fill="#448444"/>
<rect x="444.78" y="589.02" width="7.25" height="0.28" fill="#434A9A"/>
<rect x="452.03" y="588.45" width="7.25" height="0.85" fill="#5E3A8E"/>
<rect x="459.28" y="588.45" width="7.25" height="0.85" fill="#575553"/>
<line x1="433.90" y1="593.25" x2="433.90" y2="600.86" stroke="#1a1a1a" stroke-width="1.1"/>
<line x1="432.70" y1="593.25" x2="435.10" y2="593.25" stroke="#1a1a1a" stroke-width="1.3"/>
<line x1="432.70" y1="600.86" x2="435.10" y2="600.86" stroke="#1a1a1a" stroke-width="1.3"/>
<line x1="441.15" y1="589.86" x2="441.15" y2="594.09" stroke="#1a1a1a" stroke-width="1.1"/>
<line x1="439.95" y1="589.86" x2="442.35" y2="589.86" stroke="#1a1a1a" stroke-width="1.3"/>
<line x1="439.95" y1="594.09" x2="442.35" y2="594.09" stroke="#1a1a1a" stroke-width="1.3"/>
</g>
<line x1="343.80" y1="637.50" x2="472.20" y2="637.50" stroke="#111" stroke-width="1.5"/>
<line x1="367.60" y1="637.50" x2="367.60" y2="640.20" stroke="#111" stroke-width="1.0"/>
<text x="368.3" y="652.1" font-size="8.9" fill="#333" text-anchor="middle" font-weight="normal" stroke="#333" stroke-width="0.22">HMD</text>
<line x1="408.00" y1="637.50" x2="408.00" y2="640.20" stroke="#111" stroke-width="1.0"/>
<text x="408.7" y="652.1" font-size="8.9" fill="#333" text-anchor="middle" font-weight="normal" stroke="#333" stroke-width="0.22">s&#8722;PMD</text>
<line x1="448.40" y1="637.50" x2="448.40" y2="640.20" stroke="#111" stroke-width="1.0"/>
<text x="449.1" y="652.1" font-size="8.9" fill="#333" text-anchor="middle" font-weight="normal" stroke="#333" stroke-width="0.22">l&#8722;PMD</text>
<line x1="136.50" y1="615.80" x2="173.10" y2="615.80" stroke="#1a1a1a" stroke-width="1.4"/>
<text x="155.0" y="624.0" font-size="8.6" fill="#333" text-anchor="middle" font-weight="normal" stroke="#333" stroke-width="0.22">ND</text>
<line x1="50.70" y1="458.40" x2="50.70" y2="537.90" stroke="#111" stroke-width="1.5"/>
<line x1="47.20" y1="533.70" x2="50.70" y2="533.70" stroke="#111" stroke-width="1.0"/>
<text x="43.6" y="536.7" font-size="8.3" fill="#383838" text-anchor="end" font-weight="normal" stroke="#383838" stroke-width="0.22">0</text>
<line x1="47.20" y1="514.00" x2="50.70" y2="514.00" stroke="#111" stroke-width="1.0"/>
<text x="43.6" y="517.0" font-size="8.3" fill="#383838" text-anchor="end" font-weight="normal" stroke="#383838" stroke-width="0.22">25</text>
<line x1="47.20" y1="494.30" x2="50.70" y2="494.30" stroke="#111" stroke-width="1.0"/>
<text x="43.6" y="497.30000000000007" font-size="8.3" fill="#383838" text-anchor="end" font-weight="normal" stroke="#383838" stroke-width="0.22">50</text>
<line x1="47.20" y1="474.60" x2="50.70" y2="474.60" stroke="#111" stroke-width="1.0"/>
<text x="43.6" y="477.6" font-size="8.3" fill="#383838" text-anchor="end" font-weight="normal" stroke="#383838" stroke-width="0.22">75</text>
<text transform="translate(27.3,498.0) rotate(-90)" font-size="10.2" fill="#151515" text-anchor="middle" font-weight="normal" textLength="41.3" lengthAdjust="spacingAndGlyphs" stroke="#151515" stroke-width="0.22">% of domain</text>
<line x1="50.70" y1="558.00" x2="50.70" y2="638.10" stroke="#111" stroke-width="1.5"/>
<line x1="47.20" y1="617.50" x2="50.70" y2="617.50" stroke="#111" stroke-width="1.0"/>
<text x="43.6" y="620.5" font-size="8.4" fill="#383838" text-anchor="end" font-weight="normal" stroke="#383838" stroke-width="0.22">-5</text>
<line x1="47.20" y1="589.30" x2="50.70" y2="589.30" stroke="#111" stroke-width="1.0"/>
<text x="43.6" y="592.3" font-size="8.4" fill="#383838" text-anchor="end" font-weight="normal" stroke="#383838" stroke-width="0.22">0</text>
<line x1="47.20" y1="561.10" x2="50.70" y2="561.10" stroke="#111" stroke-width="1.0"/>
<text x="43.6" y="564.0999999999999" font-size="8.4" fill="#383838" text-anchor="end" font-weight="normal" stroke="#383838" stroke-width="0.22">5</text>
<text transform="translate(26.0,597.9) rotate(-90)" font-size="9.9" textLength="65.8" lengthAdjust="spacingAndGlyphs" fill="#151515" text-anchor="middle">log<tspan font-size="5.4" dy="2">2</tspan><tspan dy="-2"> fold enrichment</tspan></text>
<text x="75.5" y="669.5" font-size="8.5" fill="#222" text-anchor="start" font-weight="normal" textLength="62.5" lengthAdjust="spacingAndGlyphs" stroke="#222" stroke-width="0.22">chromHMM state</text>
<rect x="148.30" y="662.60" width="8.20" height="8.10" fill="#C40E1A"/>
<text x="160.2" y="669.5" font-size="8.5" fill="#222" text-anchor="start" font-weight="normal" textLength="21.6" lengthAdjust="spacingAndGlyphs" stroke="#222" stroke-width="0.22">Active</text>
<rect x="192.40" y="662.60" width="8.20" height="8.10" fill="#448444"/>
<text x="204.6" y="669.5" font-size="8.5" fill="#222" text-anchor="start" font-weight="normal" textLength="27.1" lengthAdjust="spacingAndGlyphs" stroke="#222" stroke-width="0.22">Bivalent</text>
<rect x="242.70" y="662.60" width="8.20" height="8.10" fill="#434A9A"/>
<text x="254.2" y="669.5" font-size="8.5" fill="#222" text-anchor="start" font-weight="normal" textLength="51.4" lengthAdjust="spacingAndGlyphs" stroke="#222" stroke-width="0.22">PC Repressed</text>
<rect x="317.20" y="662.60" width="8.20" height="8.10" fill="#5E3A8E"/>
<text x="328.8" y="669.5" font-size="8.5" fill="#222" text-anchor="start" font-weight="normal" textLength="59.1" lengthAdjust="spacingAndGlyphs" stroke="#222" stroke-width="0.22">Heterochromatin</text>
<rect x="397.80" y="662.60" width="8.20" height="8.10" fill="#575553"/>
<text x="409.5" y="669.5" font-size="8.5" fill="#222" text-anchor="start" font-weight="normal" textLength="36.7" lengthAdjust="spacingAndGlyphs" stroke="#222" stroke-width="0.22">Quiescent</text>
</svg></div>
</body></html>
